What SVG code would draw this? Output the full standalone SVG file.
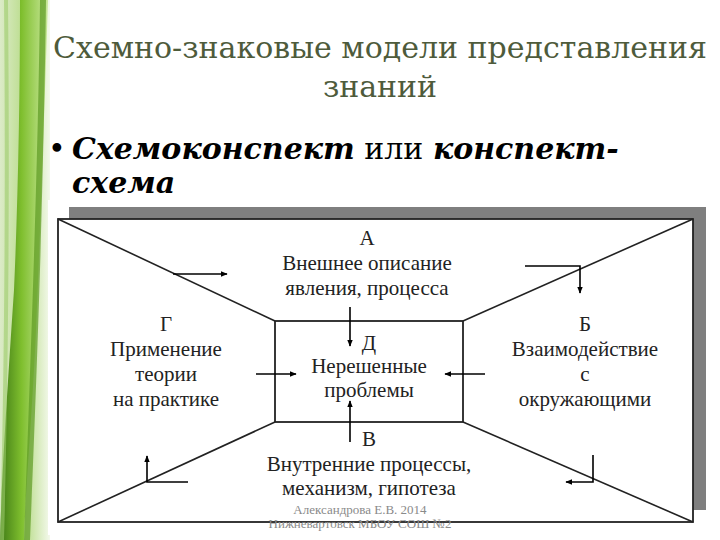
<svg xmlns="http://www.w3.org/2000/svg" width="720" height="540" viewBox="0 0 720 540">
<defs>
<linearGradient id="gBand" x1="0" y1="0" x2="1" y2="0">
<stop offset="0" stop-color="#3f7a16"/>
<stop offset="0.45" stop-color="#7fbf2e"/>
<stop offset="1" stop-color="#c9e79a"/>
</linearGradient>
<linearGradient id="gPale" x1="0" y1="0" x2="1" y2="0">
<stop offset="0" stop-color="#dcebc8"/>
<stop offset="0.5" stop-color="#b9dc8a"/>
<stop offset="1" stop-color="#f4f9ec"/>
</linearGradient>
<marker id="ah" viewBox="0 0 10 10" refX="9" refY="5" markerWidth="7" markerHeight="7" orient="auto" markerUnits="userSpaceOnUse">
<path d="M0,1 L10,5 L0,9 Z" fill="#000"/>
</marker>
<style>
.t{font-family:'Liberation Serif','DejaVu Serif','Times New Roman',serif;font-size:21px;fill:#222;text-anchor:middle}
.ln{stroke:#222;stroke-width:1.6;fill:none}
.ar{stroke:#000;stroke-width:1.6;fill:none}
.title{font-family:'DejaVu Serif','Liberation Serif',serif;font-size:30px;fill:#4e5b3b;text-anchor:middle}
.bul{font-family:'DejaVu Serif','Liberation Serif',serif;font-size:30px;fill:#000}
.ft{font-family:'Liberation Serif','DejaVu Serif',serif;font-size:13px;fill:#8a8a8a;text-anchor:middle}
</style>
</defs>
<rect width="720" height="540" fill="#fff"/>
<g id="decor">
<rect x="0" y="0" width="50" height="540" fill="url(#gPale)"/>
<path d="M20,0 L48,0 C44,120 40,240 36,330 C32,420 26,480 24,540 L0,540 C2,470 8,380 14,290 C18,200 20,100 20,0 Z" fill="url(#gBand)"/>
<path d="M40,0 L46,0 C44,150 40,300 30,540 L24,540 C32,320 38,160 40,0 Z" fill="#5c9a22" opacity="0.7"/>
<path d="M4,0 L8,0 C10,200 8,400 4,540 L0,540 C4,400 6,200 4,0 Z" fill="#9ccc6a" opacity="0.6"/>
</g>
<g id="title">
<text class="title" x="380" y="58">Схемно-знаковые модели представления</text>
<text class="title" x="380" y="97">знаний</text>
</g>
<g id="bullet">
<text class="bul" x="48" y="159">•</text>
<text class="bul" x="72" y="159"><tspan font-weight="bold" font-style="italic">Схемоконспект</tspan> или <tspan font-weight="bold" font-style="italic">конспект-</tspan></text>
<text class="bul" x="72" y="193" font-weight="bold" font-style="italic">схема</text>
</g>
<g id="frame">
<rect x="48" y="200" width="672" height="335" fill="#fff"/>
<rect x="69" y="207" width="637" height="303" fill="#7f7f7f"/>
<rect x="58" y="219" width="635" height="303" fill="#fff" stroke="#222" stroke-width="1.8"/>
<rect x="275" y="321" width="188" height="101" fill="#fff" stroke="#222" stroke-width="1.8"/>
<line class="ln" x1="58" y1="219" x2="275" y2="321"/>
<line class="ln" x1="693" y1="219" x2="463" y2="321"/>
<line class="ln" x1="58" y1="522" x2="275" y2="422"/>
<line class="ln" x1="693" y1="522" x2="463" y2="422"/>
</g>
<g id="nodeA">
<text class="t" x="367" y="245">А</text>
<text class="t" x="367" y="270">Внешнее описание</text>
<text class="t" x="367" y="295">явления, процесса</text>
</g>
<g id="nodeD">
<text class="t" x="369" y="350">Д</text>
<text class="t" x="369" y="373">Нерешенные</text>
<text class="t" x="369" y="397">проблемы</text>
</g>
<g id="nodeG">
<text class="t" x="166" y="331">Г</text>
<text class="t" x="166" y="356">Применение</text>
<text class="t" x="166" y="381">теории</text>
<text class="t" x="166" y="406">на практике</text>
</g>
<g id="nodeB">
<text class="t" x="585" y="331">Б</text>
<text class="t" x="585" y="356">Взаимодействие</text>
<text class="t" x="585" y="381">с</text>
<text class="t" x="585" y="406">окружающими</text>
</g>
<g id="nodeV">
<text class="t" x="369" y="446">В</text>
<text class="t" x="369" y="471">Внутренние процессы,</text>
<text class="t" x="369" y="495">механизм, гипотеза</text>
</g>
<g id="connectors">
<path class="ar" d="M173,274 L227,274" marker-end="url(#ah)"/>
<path class="ar" d="M525,266 L580,266 L580,293" marker-end="url(#ah)"/>
<path class="ar" d="M350,307 L350,346" marker-end="url(#ah)"/>
<path class="ar" d="M256,374 L296,374" marker-end="url(#ah)"/>
<path class="ar" d="M485,374 L445,374" marker-end="url(#ah)"/>
<path class="ar" d="M350,442 L350,401" marker-end="url(#ah)"/>
<path class="ar" d="M188,482 L147,482 L147,456" marker-end="url(#ah)"/>
<path class="ar" d="M593,455 L593,482 L566,482" marker-end="url(#ah)"/>
</g>
<g id="footer">
<text class="ft" x="360" y="514">Александрова Е.В. 2014</text>
<text class="ft" x="360" y="528">Нижневартовск МБОУ СОШ №2</text>
</g>
</svg>
